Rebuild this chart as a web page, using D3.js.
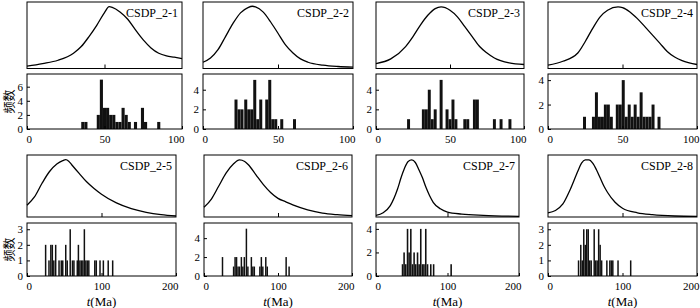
<!DOCTYPE html>
<html>
<head>
<meta charset="utf-8">
<script src="https://cdn.jsdelivr.net/npm/d3@7"></script>
<style>
body { margin: 0; background: #fff; }
svg { display: block; }
</style>
</head>
<body>
<svg id="chart" width="700" height="308"></svg>
<script>
// sample names and x range of each panel
const panelNames = ["CSDP_2-1", "CSDP_2-2", "CSDP_2-3", "CSDP_2-4",
                    "CSDP_2-5", "CSDP_2-6", "CSDP_2-7", "CSDP_2-8"];
const xMax = [100, 100, 100, 100, 200, 200, 200, 200];
const xTicksTop = [0, 50, 100];
const xTicksBottom = [0, 100, 200];
const yTicks = [[0, 2, 4, 6], [0, 2, 4], [0, 2, 4], [0, 2, 4],
                [0, 1, 2, 3], [0, 2, 4], [0, 2, 4], [0, 1, 2, 3]];
const yMax = [7.8, 5.6, 5.6, 4.5, 3.4, 5.6, 4.5, 3.4];
const binWidth = [2, 2, 2, 2, 2, 2, 2.2, 2];

// density curves [age, relative density]
const curve1 = [[0,.035],[10,.074],[20,.124],[30,.23],[35,.33],[40,.48],[45,.65],[50,.84],[53,.93],[55,.92],[60,.85],[65,.74],[70,.58],[75,.43],[80,.31],[85,.23],[90,.19],[95,.17],[100,.15]];
const curve2 = [[0,.094],[5,.158],[10,.282],[15,.48],[20,.678],[25,.837],[30,.916],[33,.936],[35,.926],[40,.851],[45,.703],[50,.53],[55,.356],[60,.233],[65,.144],[70,.094],[80,.05],[90,.03],[100,.02]];
const curve3 = [[0,.074],[10,.144],[20,.33],[25,.48],[30,.653],[35,.8],[40,.9],[44,.926],[50,.876],[55,.777],[60,.629],[65,.48],[70,.33],[75,.233],[80,.158],[90,.084],[100,.06]];
const curve4 = [[0,.05],[10,.109],[20,.233],[25,.406],[30,.604],[35,.777],[40,.876],[47,.926],[50,.916],[55,.851],[60,.75],[65,.629],[70,.505],[75,.381],[80,.257],[85,.173],[90,.119],[100,.06]];
const curve5 = [[0,.19],[10,.324],[20,.54],[30,.73],[40,.854],[48,.91],[52,.925],[56,.9],[60,.843],[70,.703],[80,.568],[90,.46],[100,.368],[120,.227],[140,.135],[160,.076],[180,.038],[200,.016]];
const curve6 = [[0,.158],[10,.29],[20,.5],[30,.71],[40,.858],[48,.92],[55,.895],[60,.842],[70,.684],[80,.526],[90,.395],[100,.3],[110,.247],[120,.195],[140,.116],[160,.063],[180,.037],[200,.021]];
const curve7 = [[0,.026],[10,.068],[20,.184],[30,.447],[35,.632],[40,.79],[45,.895],[50,.92],[55,.879],[60,.763],[65,.632],[70,.474],[75,.342],[80,.237],[90,.132],[100,.079],[120,.047],[150,.026],[200,.01]];
const curve8 = [[0,.068],[10,.105],[20,.21],[30,.447],[40,.737],[45,.868],[50,.92],[55,.92],[60,.868],[65,.763],[70,.632],[75,.5],[80,.395],[90,.237],[100,.142],[120,.068],[140,.037],[170,.016],[200,.01]];

// histogram bins [bin start, count]
const hist1 = [[35,1],[37,1],[45,2],[47,7],[49,3],[51,3],[53,2],[55,2],[57,1],[59,1],[61,3],[63,2],[65,1],[69,1],[73.5,3],[75.5,1],[84,1]];
const hist2 = [[21,3],[23,2],[25,2],[27.5,3],[29.5,2],[31.5,2],[33.5,5],[35.5,1],[37.5,3],[41.5,3],[43.5,5],[45.5,1],[47.5,1],[51.5,1],[60,1]];
const hist3 = [[21,1],[31,2],[33,2],[35,4],[37,1],[39,2],[43,5],[47,2],[49,1],[51,3],[53,1],[59,1],[61,1],[65.5,3],[67.5,3],[79,1],[83.5,1],[89.5,1]];
const hist4 = [[23.5,1],[29.5,1],[31.5,3],[33.5,1],[35.5,1],[37.5,2],[39.5,2],[41.5,1],[45.5,2],[47.5,2],[49.5,4],[51.5,1],[53.5,2],[55.5,1],[57.5,2],[59.5,1],[61.5,3],[63.5,1],[65.5,1],[67.5,1],[69.5,2],[73.5,1]];
const hist5 = [[24,2],[28.5,1],[31,2],[33,2],[35,1],[37.5,2],[42,1],[45,1],[47,1],[51,2],[53,1],[57,3],[60,1],[62,1],[66.5,1],[68,2],[70,1],[72,1],[74,1],[76,3],[78,1],[80,1],[82,1],[90,1],[92,1],[97,1],[101.5,1],[108,1],[114,1]];
const hist6 = [[24,2],[39,1],[41,2],[43,2],[45,1],[47,1],[49.5,2],[51.5,1],[53.5,2],[56.3,5],[58.3,1],[63,2],[65,1],[67,1],[74.5,1],[76.5,2],[78.5,1],[82.5,2],[84.5,1],[110,2],[114,1]];
const hist7 = [[36,1],[38.2,2],[40.5,1],[43,4],[45.2,2],[47.6,4],[50,1],[52.2,2],[54.5,1],[57,2],[59.2,1],[61.5,4],[64,1],[66,1],[68.5,4],[71,1],[75.5,1],[79.5,1],[104,1]];
const hist8 = [[40,1],[43,2],[45,1],[47,3],[49,2],[51,3],[53,3],[55,1],[57,1],[61,3],[63,1],[65,1],[67,3],[69,2],[71,1],[78,1],[82,1],[84,1],[86,1],[93,1],[110,1]];

const curves = [curve1, curve2, curve3, curve4, curve5, curve6, curve7, curve8];
const hists = [hist1, hist2, hist3, hist4, hist5, hist6, hist7, hist8];

// layout
let serif = "'Liberation Serif', 'Times New Roman', serif";
let lefts  = [27, 203, 376, 548, 27, 204, 376, 548];
let rights = [182, 353, 524, 697, 176, 352, 519, 697];
let rows = [
    {cTop: 2, cBot: 68.5, hTop: 74, hBot: 129},
    {cTop: 155, cBot: 217, hTop: 223, hBot: 276}
];

let svg = d3.select("#chart");

function drawPanel(i) {
    let row = rows[i < 4 ? 0 : 1];
    let left = lefts[i], right = rights[i];
    let g = svg.append("g");

    let x = d3.scaleLinear().domain([0, xMax[i]]).range([left, right]);
    let yc = d3.scaleLinear().domain([0, 1]).range([row.cBot, row.cTop]);
    let yh = d3.scaleLinear().domain([0, yMax[i]]).range([row.hBot, row.hTop]);

    //density curve box
    let line = d3.line()
        .x(function(d){ return x(d[0]); })
        .y(function(d){ return yc(d[1]); })
        .curve(d3.curveMonotoneX);

    g.append("path")
        .datum(curves[i])
        .attr("d", line)
        .attr("fill", "none")
        .attr("stroke", "#000")
        .attr("stroke-width", 1.3);

    g.append("rect")
        .attr("x", left).attr("y", row.cTop)
        .attr("width", right - left).attr("height", row.cBot - row.cTop)
        .attr("fill", "none").attr("stroke", "#000").attr("stroke-width", 1);

    //small tick at the middle of the curve box
    g.append("g")
        .attr("transform", "translate(0," + row.cBot + ")")
        .call(d3.axisBottom(x).tickValues([xMax[i] / 2]).tickSizeInner(-4).tickSizeOuter(0).tickFormat(""))
        .call(function(a){ a.select(".domain").remove(); });

    g.append("text")
        .attr("x", right - 4)
        .attr("y", row.cTop + 15)
        .attr("text-anchor", "end")
        .attr("font-family", serif)
        .attr("font-size", "12px")
        .text(panelNames[i]);

    //histogram bars
    g.selectAll(".bar")
        .data(hists[i])
        .enter()
        .append("rect")
            .attr("x", function(d){ return x(d[0]); })
            .attr("y", function(d){ return yh(d[1]); })
            .attr("width", function(d){ return x(d[0] + binWidth[i]) - x(d[0]); })
            .attr("height", function(d){ return row.hBot - yh(d[1]); })
            .style("fill", "#111");

    g.append("rect")
        .attr("x", left).attr("y", row.hTop)
        .attr("width", right - left).attr("height", row.hBot - row.hTop)
        .attr("fill", "none").attr("stroke", "#000").attr("stroke-width", 1);

    //y axis, ticks point inward
    g.append("g")
        .attr("transform", "translate(" + left + ",0)")
        .call(d3.axisLeft(yh).tickValues(yTicks[i]).tickFormat(d3.format("d"))
                .tickSizeInner(-3).tickSizeOuter(0).tickPadding(4))
        .call(function(a){
            a.select(".domain").remove();
            a.selectAll("text").attr("font-family", serif).attr("font-size", "11px").attr("fill", "#000");
        });

    //x axis
    let xt = i < 4 ? xTicksTop : xTicksBottom;
    g.append("g")
        .attr("transform", "translate(0," + row.hBot + ")")
        .call(d3.axisBottom(x).tickValues(xt).tickSizeInner(-3).tickSizeOuter(0).tickPadding(6.5))
        .call(function(a){
            a.select(".domain").remove();
            a.selectAll("text")
                .attr("font-family", serif).attr("font-size", "11px").attr("fill", "#000")
                .attr("text-anchor", function(d, k){ return k == 0 ? "start" : (k == xt.length - 1 ? "end" : "middle"); })
                .attr("dx", function(d, k){ return k == 0 ? -1 : (k == xt.length - 1 ? 2 : 0); });
        });

    if (i >= 4) {
        let t = g.append("text")
            .attr("x", (left + right) / 2)
            .attr("y", 306)
            .attr("text-anchor", "middle")
            .attr("font-family", serif)
            .attr("font-size", "13px");
        t.append("tspan").attr("font-style", "italic").text("t");
        t.append("tspan").text("(Ma)");
    }

    if (i == 0 || i == 4) {
        let cy = (row.hTop + row.hBot) / 2;
        g.append("text")
            .attr("transform", "translate(8," + cy + ") rotate(-90)")
            .attr("text-anchor", "middle")
            .attr("dominant-baseline", "central")
            .attr("font-family", "'Noto Sans CJK SC', sans-serif")
            .attr("font-size", "12px")
            .text("频数");
    }
}

for (let i = 0; i < 8; i++) drawPanel(i);
</script>
</body>
</html>
